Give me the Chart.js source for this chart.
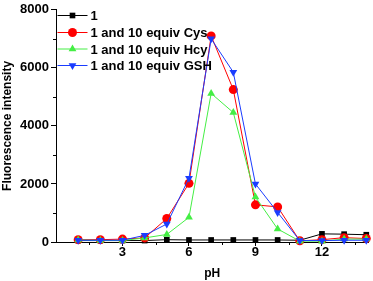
<!DOCTYPE html>
<html>
<head>
<meta charset="utf-8">
<script src="https://cdn.jsdelivr.net/npm/chart.js@4.4.0/dist/chart.umd.min.js"></script>
<style>
    html, body { margin: 0; padding: 0; background: #fff; }
    #wrap { width: 373px; height: 281px; position: relative; }
</style>
</head>
<body>
<div id="wrap"><canvas id="ph-chart"></canvas></div>
<script>
    'use strict';

    // pH values (x) and fluorescence intensity for each sample
    var phValues = [1, 2, 3, 4, 5, 6, 7, 8, 9, 10, 11, 12, 13, 14];
    var probeOnly = [50, 50, 50, 50, 80, 70, 70, 70, 70, 70, 60, 280, 270, 250];
    var withCys = [80, 80, 100, 140, 810, 2020, 7100, 5250, 1280, 1210, 40, 80, 150, 120];
    var withHcy = [70, 50, 50, 140, 260, 850, 5120, 4460, 1550, 450, 30, 30, 100, 100];
    var withGsh = [60, 60, 60, 230, 620, 2200, 7000, 5850, 2000, 1020, 50, 50, 60, 60];
    var seriesLabels = ['1', '1 and 10 equiv Cys', '1 and 10 equiv Hcy', '1 and 10 equiv GSH'];
    var xTickLabels = [3, 6, 9, 12];
    var yTickLabels = [0, 2000, 4000, 6000, 8000];

    var FONT = '"Liberation Sans", Arial, sans-serif';

    function toPoints(values) {
        return values.map(function (v, i) {
            return { x: phValues[i], y: v };
        });
    }

    function makeDataset(label, values, color, style, rotation, order) {
        return {
            label: label,
            data: toPoints(values),
            borderColor: color,
            backgroundColor: color,
            borderWidth: 1,
            pointStyle: style,
            pointRotation: rotation || 0,
            pointRadius: style === 'rect' ? 4 : 4.5,
            pointBorderWidth: 0,
            tension: 0,
            clip: false,
            order: order
        };
    }

    /**
     * Legend drawn inside the plot: a short line with the marker in its middle.
     */
    var insideLegend = {
        id: 'insideLegend',
        afterDatasetsDraw: function (chart) {
            var ctx = chart.ctx;
            var area = chart.chartArea;
            var rowY = [15.5, 32.5, 49, 65.5];
            chart.data.datasets.forEach(function (ds, i) {
                var y = rowY[i];
                var x0 = area.left + 1.5;
                ctx.save();
                ctx.strokeStyle = ds.borderColor;
                ctx.lineWidth = 1;
                ctx.beginPath();
                ctx.moveTo(x0, y);
                ctx.lineTo(x0 + 30, y);
                ctx.stroke();
                ctx.fillStyle = ds.backgroundColor;
                Chart.helpers.drawPoint(ctx, {
                    pointStyle: ds.pointStyle,
                    rotation: ds.pointRotation,
                    radius: ds.pointRadius,
                    borderWidth: 0
                }, x0 + 15, y);
                ctx.fillStyle = '#000';
                ctx.font = 'bold 13px ' + FONT;
                ctx.textBaseline = 'middle';
                ctx.fillText(ds.label, x0 + 33, y + 1);
                ctx.restore();
            });
        }
    };

    /**
     * Minor ticks (shorter) between the labelled ones.
     */
    var minorTicks = {
        id: 'minorTicks',
        afterDraw: function (chart) {
            var ctx = chart.ctx;
            var xs = chart.scales.x;
            var ys = chart.scales.y;
            ctx.save();
            ctx.strokeStyle = '#000';
            ctx.lineWidth = 1;
            ctx.beginPath();
            [1000, 3000, 5000, 7000].forEach(function (v) {
                var py = Math.round(ys.getPixelForValue(v)) + 0.5;
                ctx.moveTo(xs.left - 3, py);
                ctx.lineTo(xs.left, py);
            });
            [1.5, 4.5, 7.5, 10.5, 13.5].forEach(function (v) {
                var px = Math.round(xs.getPixelForValue(v)) + 0.5;
                ctx.moveTo(px, ys.bottom);
                ctx.lineTo(px, ys.bottom + 3);
            });
            ctx.stroke();
            ctx.restore();
        }
    };

    function initChart() {
        var canvas = document.getElementById('ph-chart');
        var ctx = canvas.getContext('2d');

        new Chart(ctx, {
            type: 'line',
            data: {
                datasets: [
                    makeDataset(seriesLabels[0], probeOnly, '#000000', 'rect', 0, 3),
                    makeDataset(seriesLabels[1], withCys, '#ff0000', 'circle', 0, 2),
                    makeDataset(seriesLabels[2], withHcy, '#44ee44', 'triangle', 0, 1),
                    makeDataset(seriesLabels[3], withGsh, '#1a3cff', 'triangle', 180, 0)
                ]
            },
            options: {
                responsive: true,
                maintainAspectRatio: false,
                animation: false,
                layout: {
                    padding: { top: 6, right: 0, left: 0, bottom: 0 }
                },
                plugins: {
                    legend: { display: false },
                    tooltip: { enabled: false }
                },
                scales: {
                    x: {
                        type: 'linear',
                        min: 0,
                        max: 14.1,
                        afterBuildTicks: function (scale) {
                            scale.ticks = xTickLabels.map(function (v) {
                                return { value: v };
                            });
                        },
                        afterFit: function (scale) {
                            scale.height = 39;
                        },
                        ticks: {
                            color: '#000',
                            font: { family: FONT, size: 13, weight: 'bold' },
                            padding: -1,
                            maxRotation: 0,
                            callback: function (value) {
                                return String(value);
                            }
                        },
                        grid: {
                            drawOnChartArea: false,
                            drawTicks: true,
                            tickLength: 4,
                            color: '#000'
                        },
                        border: { color: '#000', width: 1 },
                        title: {
                            display: true,
                            text: 'pH',
                            color: '#000',
                            font: { family: FONT, size: 12, weight: 'bold' },
                            padding: { top: 10, bottom: 0 }
                        }
                    },
                    y: {
                        min: 0,
                        max: 8000,
                        afterBuildTicks: function (scale) {
                            scale.ticks = yTickLabels.map(function (v) {
                                return { value: v };
                            });
                        },
                        afterFit: function (scale) {
                            scale.width = 56;
                        },
                        ticks: {
                            color: '#000',
                            font: { family: FONT, size: 13, weight: 'bold' },
                            padding: 2,
                            callback: function (value) {
                                return String(value);
                            }
                        },
                        grid: {
                            drawOnChartArea: false,
                            drawTicks: true,
                            tickLength: 5,
                            color: '#000'
                        },
                        border: { color: '#000', width: 1 },
                        title: {
                            display: true,
                            text: 'Fluorescence intensity',
                            color: '#000',
                            font: { family: FONT, size: 12, weight: 'bold' },
                            padding: { top: 0, bottom: 2 }
                        }
                    }
                }
            },
            plugins: [insideLegend, minorTicks]
        });
    }

    initChart();
</script>
</body>
</html>
